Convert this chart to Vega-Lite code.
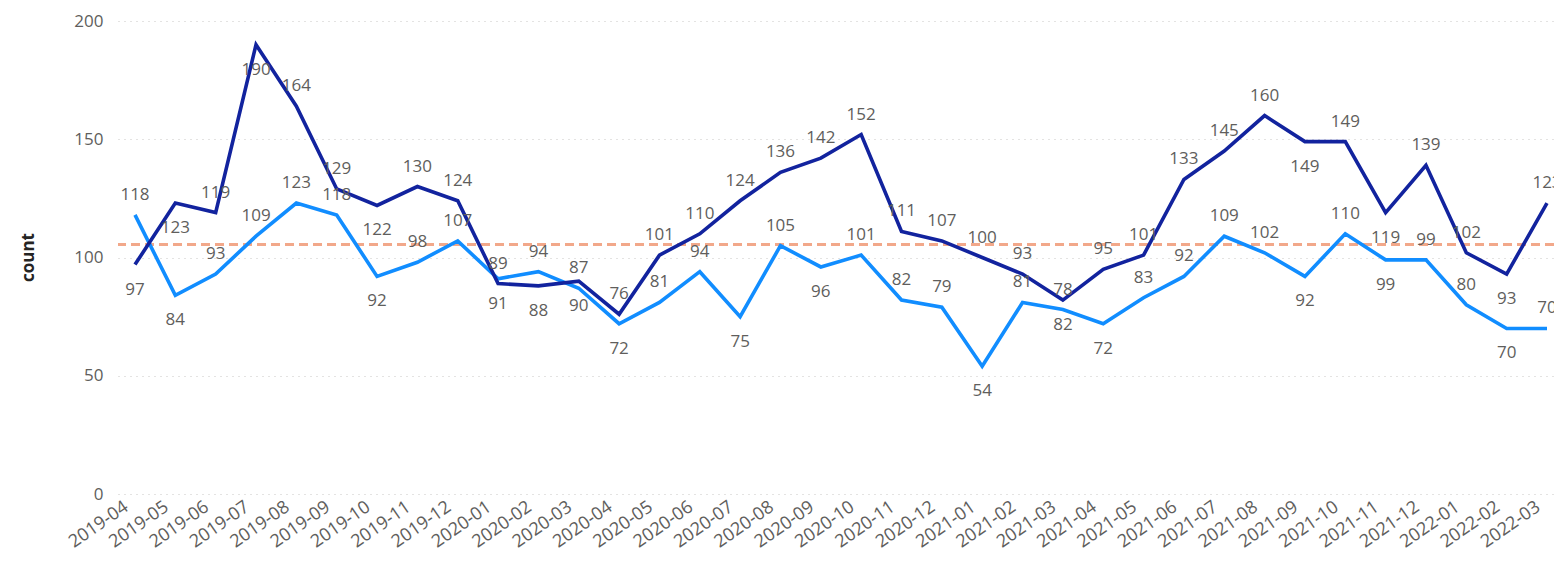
{
  "$schema": "https://vega.github.io/schema/vega-lite/v6.json",
  "width": 1436,
  "height": 473,
  "autosize": {"type": "none"},
  "padding": {"left": 118, "top": 21, "right": 0, "bottom": 77},
  "background": "white",
  "config": {"view": {"stroke": null}, "font": "Open Sans"},
  "data": {
    "values": [
      {"month": "2019-04", "series": "Series 2", "count": 118},
      {"month": "2019-05", "series": "Series 2", "count": 84},
      {"month": "2019-06", "series": "Series 2", "count": 93},
      {"month": "2019-07", "series": "Series 2", "count": 109},
      {"month": "2019-08", "series": "Series 2", "count": 123},
      {"month": "2019-09", "series": "Series 2", "count": 118},
      {"month": "2019-10", "series": "Series 2", "count": 92},
      {"month": "2019-11", "series": "Series 2", "count": 98},
      {"month": "2019-12", "series": "Series 2", "count": 107},
      {"month": "2020-01", "series": "Series 2", "count": 91},
      {"month": "2020-02", "series": "Series 2", "count": 94},
      {"month": "2020-03", "series": "Series 2", "count": 87},
      {"month": "2020-04", "series": "Series 2", "count": 72},
      {"month": "2020-05", "series": "Series 2", "count": 81},
      {"month": "2020-06", "series": "Series 2", "count": 94},
      {"month": "2020-07", "series": "Series 2", "count": 75},
      {"month": "2020-08", "series": "Series 2", "count": 105},
      {"month": "2020-09", "series": "Series 2", "count": 96},
      {"month": "2020-10", "series": "Series 2", "count": 101},
      {"month": "2020-11", "series": "Series 2", "count": 82},
      {"month": "2020-12", "series": "Series 2", "count": 79},
      {"month": "2021-01", "series": "Series 2", "count": 54},
      {"month": "2021-02", "series": "Series 2", "count": 81},
      {"month": "2021-03", "series": "Series 2", "count": 78},
      {"month": "2021-04", "series": "Series 2", "count": 72},
      {"month": "2021-05", "series": "Series 2", "count": 83},
      {"month": "2021-06", "series": "Series 2", "count": 92},
      {"month": "2021-07", "series": "Series 2", "count": 109},
      {"month": "2021-08", "series": "Series 2", "count": 102},
      {"month": "2021-09", "series": "Series 2", "count": 92},
      {"month": "2021-10", "series": "Series 2", "count": 110},
      {"month": "2021-11", "series": "Series 2", "count": 99},
      {"month": "2021-12", "series": "Series 2", "count": 99},
      {"month": "2022-01", "series": "Series 2", "count": 80},
      {"month": "2022-02", "series": "Series 2", "count": 70},
      {"month": "2022-03", "series": "Series 2", "count": 70},
      {"month": "2019-04", "series": "Series 1", "count": 97},
      {"month": "2019-05", "series": "Series 1", "count": 123},
      {"month": "2019-06", "series": "Series 1", "count": 119},
      {"month": "2019-07", "series": "Series 1", "count": 190},
      {"month": "2019-08", "series": "Series 1", "count": 164},
      {"month": "2019-09", "series": "Series 1", "count": 129},
      {"month": "2019-10", "series": "Series 1", "count": 122},
      {"month": "2019-11", "series": "Series 1", "count": 130},
      {"month": "2019-12", "series": "Series 1", "count": 124},
      {"month": "2020-01", "series": "Series 1", "count": 89},
      {"month": "2020-02", "series": "Series 1", "count": 88},
      {"month": "2020-03", "series": "Series 1", "count": 90},
      {"month": "2020-04", "series": "Series 1", "count": 76},
      {"month": "2020-05", "series": "Series 1", "count": 101},
      {"month": "2020-06", "series": "Series 1", "count": 110},
      {"month": "2020-07", "series": "Series 1", "count": 124},
      {"month": "2020-08", "series": "Series 1", "count": 136},
      {"month": "2020-09", "series": "Series 1", "count": 142},
      {"month": "2020-10", "series": "Series 1", "count": 152},
      {"month": "2020-11", "series": "Series 1", "count": 111},
      {"month": "2020-12", "series": "Series 1", "count": 107},
      {"month": "2021-01", "series": "Series 1", "count": 100},
      {"month": "2021-02", "series": "Series 1", "count": 93},
      {"month": "2021-03", "series": "Series 1", "count": 82},
      {"month": "2021-04", "series": "Series 1", "count": 95},
      {"month": "2021-05", "series": "Series 1", "count": 101},
      {"month": "2021-06", "series": "Series 1", "count": 133},
      {"month": "2021-07", "series": "Series 1", "count": 145},
      {"month": "2021-08", "series": "Series 1", "count": 160},
      {"month": "2021-09", "series": "Series 1", "count": 149},
      {"month": "2021-10", "series": "Series 1", "count": 149},
      {"month": "2021-11", "series": "Series 1", "count": 119},
      {"month": "2021-12", "series": "Series 1", "count": 139},
      {"month": "2022-01", "series": "Series 1", "count": 102},
      {"month": "2022-02", "series": "Series 1", "count": 93},
      {"month": "2022-03", "series": "Series 1", "count": 123}
    ]
  },
  "transform": [
    {
      "window": [
        {"op": "lag", "field": "count", "as": "prev"},
        {"op": "lead", "field": "count", "as": "next"}
      ],
      "groupby": ["series"],
      "sort": [{"field": "month"}]
    }
  ],
  "encoding": {
    "x": {
      "field": "month",
      "type": "ordinal",
      "scale": {"type": "point", "padding": 0.2974, "align": 0.708},
      "axis": {
        "title": null,
        "labelAngle": -35,
        "labelAlign": "right",
        "labelBaseline": "middle",
        "labelFontSize": 18,
        "labelColor": "#605E5C",
        "labelPadding": 11,
        "labelOffset": -9,
        "labelOverlap": false,
        "labelBound": false,
        "ticks": false,
        "domain": false,
        "grid": false
      }
    }
  },
  "layer": [
    {
      "transform": [{"aggregate": [{"op": "mean", "field": "count", "as": "avg"}]}],
      "mark": {"type": "rule", "stroke": "#F2A88A", "strokeWidth": 3, "strokeDash": [9, 5]},
      "encoding": {
        "x": null,
        "y": {"field": "avg", "type": "quantitative", "scale": {"domain": [0, 200]}}
      }
    },
    {
      "mark": {"type": "line", "strokeWidth": 3.6},
      "encoding": {
        "y": {
          "field": "count",
          "type": "quantitative",
          "scale": {"domain": [0, 200]},
          "axis": {
            "values": [0, 50, 100, 150, 200],
            "grid": true,
            "gridDash": [1, 5],
            "gridColor": "#C8C6C4",
            "gridWidth": 1,
            "ticks": false,
            "domain": false,
            "labelFontSize": 17,
            "labelColor": "#605E5C",
            "labelPadding": 15,
            "title": "count",
            "titleFontSize": 17,
            "titleFontWeight": "bold",
            "titleColor": "#252423",
            "titleX": -90,
            "titleY": 236,
            "titleAngle": -90,
            "titleAlign": "center",
            "titleBaseline": "middle"
          }
        },
        "color": {
          "field": "series",
          "type": "nominal",
          "scale": {"domain": ["Series 2", "Series 1"], "range": ["#118DFF", "#12239E"]},
          "legend": null
        }
      }
    },
    {
      "transform": [{"filter": "((datum.prev == null || datum.count < datum.prev) && (datum.next == null || datum.count <= datum.next)) == (indexof(['Series 1|2019-05', 'Series 1|2019-06', 'Series 1|2019-07', 'Series 1|2020-03', 'Series 1|2020-04'], datum.series + '|' + datum.month) >= 0)"}],
      "mark": {"type": "text", "dy": -20, "fontSize": 17, "color": "#605E5C", "baseline": "middle"},
      "encoding": {
        "y": {"field": "count", "type": "quantitative"},
        "text": {"field": "count", "type": "quantitative"}
      }
    },
    {
      "transform": [{"filter": "((datum.prev == null || datum.count < datum.prev) && (datum.next == null || datum.count <= datum.next)) != (indexof(['Series 1|2019-05', 'Series 1|2019-06', 'Series 1|2019-07', 'Series 1|2020-03', 'Series 1|2020-04'], datum.series + '|' + datum.month) >= 0)"}],
      "mark": {"type": "text", "dy": 25, "fontSize": 17, "color": "#605E5C", "baseline": "middle"},
      "encoding": {
        "y": {"field": "count", "type": "quantitative"},
        "text": {"field": "count", "type": "quantitative"}
      }
    }
  ]
}
